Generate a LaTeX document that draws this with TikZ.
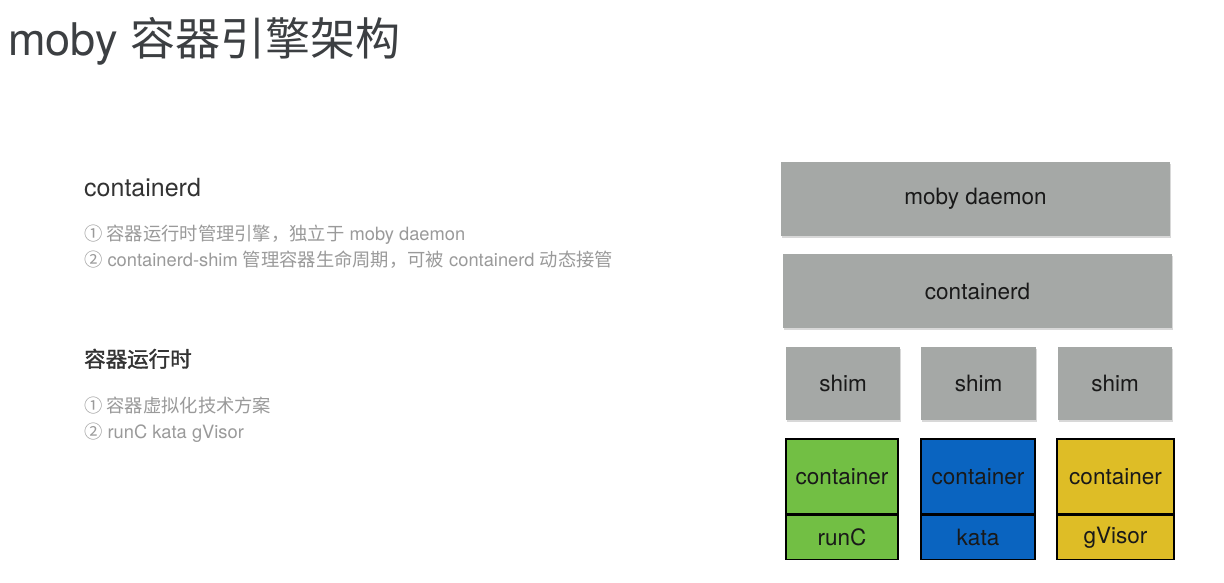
\documentclass[tikz,border=0pt]{standalone}
\usepackage{fontspec}
\setmainfont{TeX Gyre Heros}
\newfontfamily\cjk{Noto Sans CJK SC}
\newfontfamily\cjkhead[FakeBold=1.5]{Noto Sans CJK SC}
\usetikzlibrary{shadows}

\definecolor{boxgray}{HTML}{A5A8A6}
\definecolor{rungreen}{HTML}{72BF44}
\definecolor{katablue}{HTML}{0A64C0}
\definecolor{gvyellow}{HTML}{DEBD26}
\definecolor{titlegray}{HTML}{3C3F42}
\definecolor{headgray}{HTML}{333333}
\definecolor{textgray}{HTML}{9A9A9A}

\begin{document}
\begin{tikzpicture}[x=1pt,y=-1pt]
\tikzstyle{every node}+=[inner sep=0pt]
\tikzstyle{layer}=[fill=boxgray,text=black!90,font=\fontsize{22.5}{26}\selectfont,
  drop shadow={opacity=0.3,shadow xshift=0.5pt,shadow yshift=-1.5pt}]
\tikzstyle{rt}=[draw=black,line width=1.6pt,text=black!90,minimum width=112pt,
  font=\fontsize{22.5}{26}\selectfont]
\tikzstyle{txt}=[anchor=base west,text=textgray,font=\fontsize{18.3}{20}\selectfont]
\useasboundingbox (0,0) rectangle (1224,582);
\fill [white] (0,0) rectangle (1224,582);
% title
\node (title) [anchor=base west,text=titlegray,font=\fontsize{45}{50}\selectfont]
  at (8,55) {moby {\cjk 容器引擎架构}};
% left column
\node (hctr) [anchor=base west,text=headgray,font=\fontsize{25}{28}\selectfont]
  at (84,196) {containerd};
\node (ctr1) [txt] at (84,240) {{\cjk ① 容器运行时管理引擎，独立于} moby daemon};
\node (ctr2) [txt] at (84,266) {{\cjk ②} containerd-shim {\cjk 管理容器生命周期，可被} containerd {\cjk 动态接管}};
\node (hrt) [anchor=base west,text=headgray,font=\cjkhead\fontsize{21.5}{24}\selectfont]
  at (84,367) {容器运行时};
\node (rt1) [txt] at (84,412) {\cjk ① 容器虚拟化技术方案};
\node (rt2) [txt] at (84,438) {{\cjk ②} runC kata gVisor};
% engine stack
\node (daemon) [layer,minimum width=389pt,minimum height=74pt] at (975.5,199) {moby daemon};
\node (ctrd) [layer,minimum width=389pt,minimum height=74pt] at (977.5,291) {containerd};
\node (shim1) [layer,minimum width=114pt,minimum height=73pt] at (843,383.5) {shim};
\node (shim2) [layer,minimum width=115pt,minimum height=73pt] at (978.5,383.5) {shim};
\node (shim3) [layer,minimum width=114pt,minimum height=73pt] at (1115,383.5) {shim};
% runtimes
\node (c1) [rt,fill=rungreen,minimum height=75pt] at (842,476.5) {container};
\node (runc) [rt,fill=rungreen,minimum height=44pt,anchor=north] at (c1.south) {runC};
\node (c2) [rt,fill=katablue,minimum width=114pt,minimum height=75pt] at (978,476.5) {container};
\node (kata) [rt,fill=katablue,minimum width=114pt,minimum height=44pt,anchor=north] at (c2.south) {kata};
\node (c3) [rt,fill=gvyellow,minimum width=117pt,minimum height=75pt] at (1115.5,476.5) {container};
\node (gvisor) [rt,fill=gvyellow,minimum width=117pt,minimum height=44pt,anchor=north] at (c3.south) {gVisor};
\end{tikzpicture}
\end{document}
